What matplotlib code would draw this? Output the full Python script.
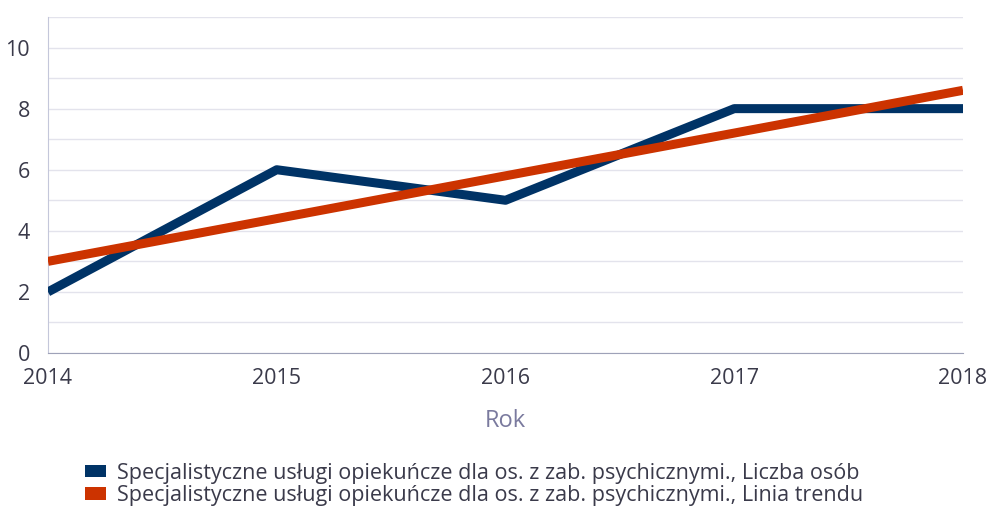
import matplotlib.pyplot as plt
from matplotlib.patches import Patch

plt.rcParams['font.family'] = ['Open Sans', 'DejaVu Sans']

years = [2014, 2015, 2016, 2017, 2018]
liczba_osob = [2, 6, 5, 8, 8]
linia_trendu = [3.0, 4.4, 5.8, 7.2, 8.6]
labels = [
    'Specjalistyczne usługi opiekuńcze dla os. z zab. psychicznymi., Liczba osób',
    'Specjalistyczne usługi opiekuńcze dla os. z zab. psychicznymi., Linia trendu',
]
colors = ['#003366', '#cc3300']

fig = plt.figure(figsize=(9.86, 5.08), dpi=100)
ax = fig.add_axes([48 / 986, 1 - 353 / 508, 915 / 986, 336 / 508])

ax.plot(years, liczba_osob, color=colors[0], linewidth=6.5, solid_capstyle='butt', zorder=3)
ax.plot(years, linia_trendu, color=colors[1], linewidth=6.5, solid_capstyle='butt', zorder=4)

ax.set_xlim(2014, 2018)
ax.set_ylim(0, 11)
ax.set_xticks(years)
ax.set_yticks(range(0, 11, 2))
ax.set_yticks(range(0, 12), minor=True)
ax.grid(True, which='both', axis='y', color='#e3e3ec', linewidth=1)
ax.set_axisbelow(True)

for s in ['top', 'right']:
    ax.spines[s].set_visible(False)
ax.spines['left'].set_color('#c4c7da')
ax.spines['bottom'].set_color('#9ea2b8')
ax.tick_params(which='both', length=0, labelsize=15.5, labelcolor='#3a3a4a')
ax.tick_params(axis='x', pad=11)
ax.tick_params(axis='y', pad=13)

ax.set_xlabel('Rok', fontsize=17, color='#7a7a9e', labelpad=14)

handles = [Patch(facecolor=c, edgecolor='none') for c in colors]
fig.legend(handles, labels, loc='upper left', bbox_to_anchor=(76 / 986, 1 - 454 / 508),
           frameon=False, fontsize=15.5, handlelength=1.0, handleheight=0.55,
           handletextpad=0.5, labelspacing=0.05, labelcolor='#3a3a4a',
           borderaxespad=0)

fig.savefig('out.png', dpi=100)
